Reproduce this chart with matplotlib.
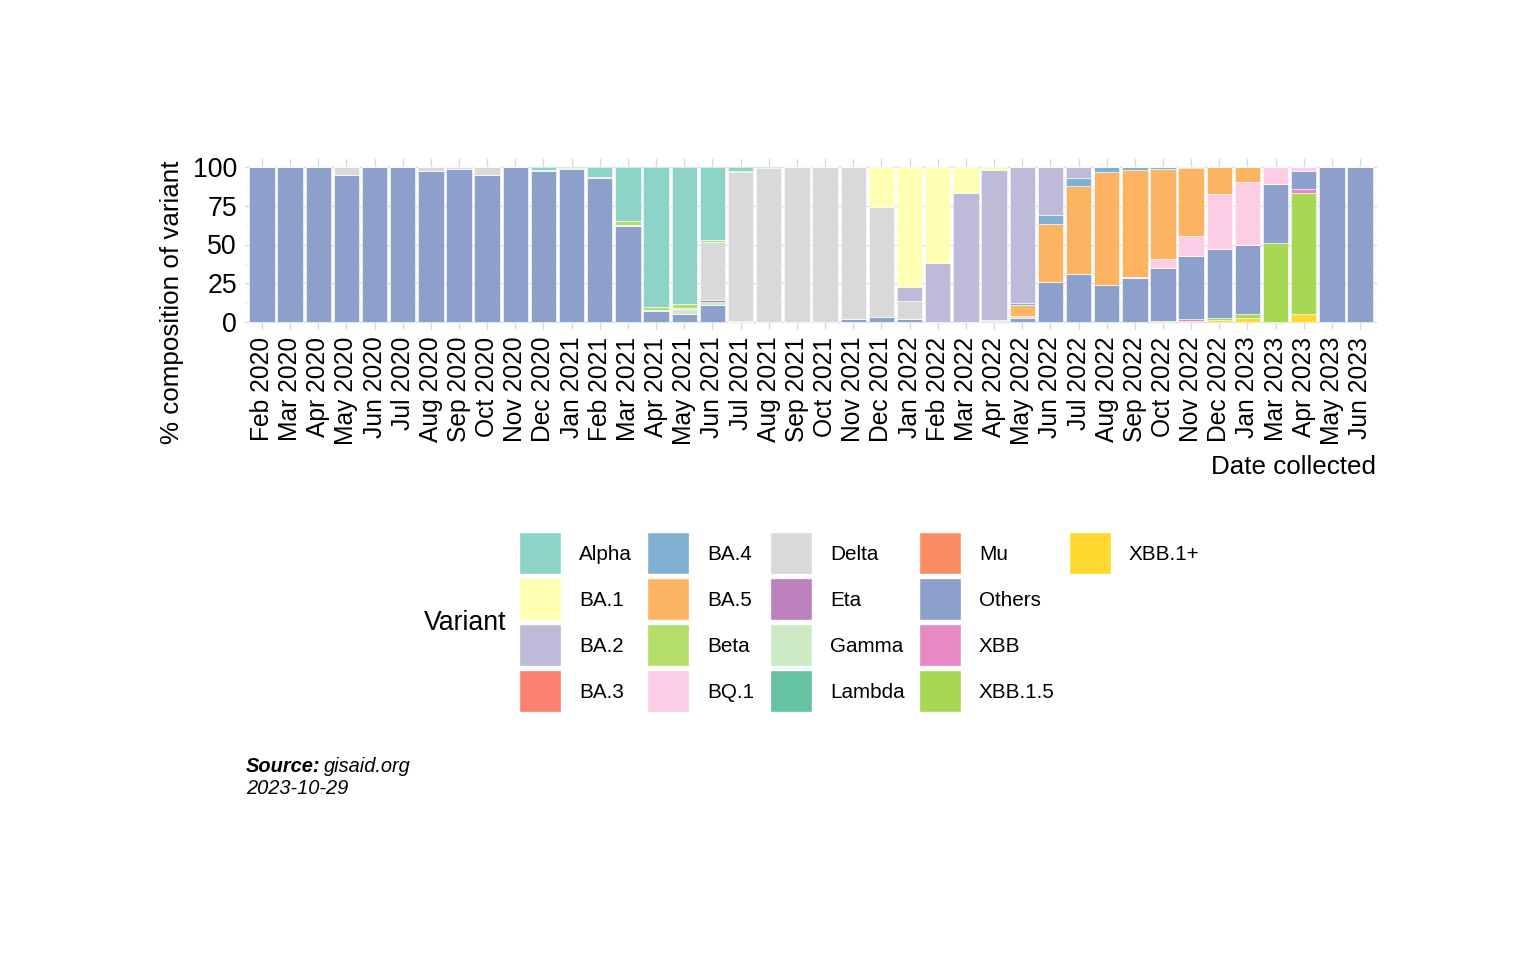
import matplotlib
matplotlib.use("Agg")
import matplotlib.pyplot as plt
from matplotlib.patches import Rectangle
import numpy as np

plt.rcParams['font.family'] = ['Liberation Sans Narrow', 'Liberation Sans', 'DejaVu Sans']

months = ["Feb 2020", "Mar 2020", "Apr 2020", "May 2020", "Jun 2020", "Jul 2020",
          "Aug 2020", "Sep 2020", "Oct 2020", "Nov 2020", "Dec 2020", "Jan 2021",
          "Feb 2021", "Mar 2021", "Apr 2021", "May 2021", "Jun 2021", "Jul 2021",
          "Aug 2021", "Sep 2021", "Oct 2021", "Nov 2021", "Dec 2021", "Jan 2022",
          "Feb 2022", "Mar 2022", "Apr 2022", "May 2022", "Jun 2022", "Jul 2022",
          "Aug 2022", "Sep 2022", "Oct 2022", "Nov 2022", "Dec 2022", "Jan 2023",
          "Mar 2023", "Apr 2023", "May 2023", "Jun 2023"]

# % share per month (top of stack -> bottom)
alpha   = [0, 0, 0, 0, 0, 0, 0, 0, 0, 0, 1.8, 0.5, 6.7, 34.8, 90.5, 88.4, 47.1, 2.6, 0.5, 0,
           0, 0, 0, 0, 0, 0, 0, 0, 0, 0, 0, 0, 0, 0, 0, 0, 0, 0, 0, 0]
ba1     = [0, 0, 0, 0, 0, 0, 0, 0, 0, 0, 0, 0, 0, 0, 0, 0, 0, 0, 0, 0,
           0, 0, 26.0, 77.6, 62.2, 17.0, 2.0, 0, 0, 0, 0, 0, 0, 0, 0, 0, 0, 0, 0, 0]
ba2     = [0, 0, 0, 0, 0, 0, 0, 0, 0, 0, 0, 0, 0, 0, 0, 0, 0, 0, 0, 0,
           0, 0, 0, 8.8, 37.8, 83.0, 96.3, 87.9, 31.0, 7.3, 0, 0, 0, 0, 0, 0, 0, 0, 0, 0]
ba3     = [0] * 40
ba4     = [0, 0, 0, 0, 0, 0, 0, 0, 0, 0, 0, 0, 0, 0, 0, 0, 0, 0, 0, 0,
           0, 0, 0, 0, 0, 0, 0, 1.3, 5.8, 5.0, 3.2, 2.2, 1.7, 0.8, 0, 0, 0, 0, 0, 0]
ba5     = [0, 0, 0, 0, 0, 0, 0, 0, 0, 0, 0, 0, 0, 0, 0, 0, 0, 0, 0, 0,
           0, 0, 0, 0, 0, 0, 1.0, 7.0, 37.2, 56.8, 72.7, 68.4, 57.8, 43.9, 17.6, 9.5, 0, 0, 0, 0]
beta    = [0, 0, 0, 0, 0, 0, 0, 0, 0, 0, 0.6, 1.0, 0, 2.4, 1.5, 2.2, 1.3, 0.8, 0, 0,
           0, 0, 0, 0, 0, 0, 0, 0, 0, 0, 0, 0, 0, 0, 0, 0, 0, 0, 0, 0]
bq1     = [0, 0, 0, 0, 0, 0, 0, 0, 0, 0, 0, 0, 0, 0, 0, 0, 0, 0, 0, 0,
           0, 0, 0, 0, 0, 0, 0, 0, 0, 0, 0, 0.8, 5.6, 12.9, 35.5, 40.9, 11.0, 3.0, 0, 0]
delta   = [0, 0, 0, 5.2, 0, 0, 2.6, 1.7, 5.4, 0, 0, 0, 0.8, 0.8, 0, 1.0, 37.4, 96.1, 99.5, 100,
           100, 98.1, 70.6, 11.8, 0, 0, 0, 0.8, 0, 0, 0, 0, 0, 0, 0, 0, 0, 0, 0, 0]
eta     = [0, 0, 0, 0, 0, 0, 0, 0, 0, 0, 0, 0, 0, 0, 0, 0.8, 1.3, 0, 0, 0,
           0, 0, 0, 0, 0, 0, 0, 0, 0, 0, 0, 0, 0, 0, 0, 0, 0, 0, 0, 0]
gamma   = [0, 0, 0, 0, 0, 0, 0, 0, 0, 0, 0, 0, 0, 0, 1.0, 2.0, 1.9, 0.5, 0, 0,
           0, 0, 0, 0, 0, 0, 0, 0, 0, 0, 0, 0, 0, 0, 0, 0, 0, 0, 0, 0]
lambda_ = [0] * 40
mu      = [0] * 40
others  = [100, 100, 100, 94.8, 100, 100, 97.4, 98.3, 94.6, 100, 97.6, 98.5, 92.5, 62.0, 7.0, 5.6, 11.0, 0, 0, 0,
           0, 1.9, 3.4, 1.8, 0, 0, 0.7, 3.0, 26.0, 30.9, 24.1, 28.6, 34.1, 40.6, 44.1, 44.0, 37.8, 11.4, 100, 100]
xbb     = [0, 0, 0, 0, 0, 0, 0, 0, 0, 0, 0, 0, 0, 0, 0, 0, 0, 0, 0, 0,
           0, 0, 0, 0, 0, 0, 0, 0, 0, 0, 0, 0, 0, 0.9, 0, 0, 0, 2.6, 0, 0]
xbb15   = [0, 0, 0, 0, 0, 0, 0, 0, 0, 0, 0, 0, 0, 0, 0, 0, 0, 0, 0, 0,
           0, 0, 0, 0, 0, 0, 0, 0, 0, 0, 0, 0, 0, 0.9, 1.3, 3.2, 51.2, 77.4, 0, 0]
xbb1p   = [0, 0, 0, 0, 0, 0, 0, 0, 0, 0, 0, 0, 0, 0, 0, 0, 0, 0, 0, 0,
           0, 0, 0, 0, 0, 0, 0, 0, 0, 0, 0, 0, 0.8, 0, 1.5, 2.4, 0, 5.6, 0, 0]

variants = ["Alpha", "BA.1", "BA.2", "BA.3", "BA.4", "BA.5", "Beta", "BQ.1", "Delta",
            "Eta", "Gamma", "Lambda", "Mu", "Others", "XBB", "XBB.1.5", "XBB.1+"]
series = [alpha, ba1, ba2, ba3, ba4, ba5, beta, bq1, delta, eta, gamma, lambda_, mu,
          others, xbb, xbb15, xbb1p]
colors = ["#8DD3C7", "#FFFFB3", "#BEBADA", "#FB8072", "#80B1D3", "#FDB462", "#B3DE69",
          "#FCCDE5", "#D9D9D9", "#BC80BD", "#CCEBC5", "#66C2A5", "#FC8D62", "#8DA0CB",
          "#E78AC3", "#A6D854", "#FFD92F"]

W, H = 1536, 960
fig = plt.figure(figsize=(16, 10), dpi=96)
ax = fig.add_axes([245 / W, 1 - 330 / H, 1132 / W, 171 / H])

x = np.arange(len(months))
# ggplot stacks the first level on top, so build from the last one up
bottom = np.zeros(len(months))
for name, vals, col in reversed(list(zip(variants, series, colors))):
    vals = np.array(vals, dtype=float)
    ax.bar(x, vals, width=0.9, bottom=bottom, color=col, edgecolor='white',
           linewidth=0.4, zorder=2)
    bottom += vals

ax.set_xlim(-0.6, len(months) - 0.4)
ax.set_ylim(-5, 105)
ax.set_yticks([0, 25, 50, 75, 100])
ax.set_yticks([12.5, 37.5, 62.5, 87.5], minor=True)
ax.set_xticks(x)
ax.set_xticklabels(months, rotation=90, fontsize=18.5, va='top')
ax.tick_params(axis='y', labelsize=20, length=0, pad=6, which='both')
ax.tick_params(axis='x', length=0, pad=5)
ax.grid(True, which='major', color='#D9D9D9', linewidth=1.0, zorder=0)
ax.grid(True, which='minor', axis='y', color='#EBEBEB', linewidth=0.6, zorder=0)
ax.set_axisbelow(True)
for s in ax.spines.values():
    s.set_visible(False)

fig.text(172 / W, 1 - 302 / H, "% composition of variant", rotation=90,
         fontsize=19.5, ha='center', va='center')
fig.text(1376 / W, 1 - 467 / H, "Date collected", fontsize=19.5, ha='right', va='center')

# legend drawn by hand, column-major 4 rows like ggplot
col_x = [519, 647, 770, 919, 1069]
row_y = [553, 599, 645, 691]
key = 42
for i, (name, col) in enumerate(zip(variants, colors)):
    c, r = divmod(i, 4)
    kx, ky = col_x[c], row_y[r]
    fig.add_artist(Rectangle((kx / W, 1 - (ky + key / 2) / H), key / W, key / H,
                             facecolor=col, edgecolor='white', linewidth=1,
                             transform=fig.transFigure))
    fig.text((kx + 60) / W, 1 - (ky + 1) / H, name, fontsize=15.5, ha='left', va='center')
fig.text(424 / W, 1 - 623 / H, "Variant", fontsize=20, ha='left', va='center')

fig.text(246 / W, 1 - 766 / H, "Source:", fontsize=15, style='italic',
         weight='bold', ha='left', va='center')
fig.text(324 / W, 1 - 766 / H, "gisaid.org", fontsize=15, style='italic',
         ha='left', va='center')
fig.text(246 / W, 1 - 788 / H, "2023-10-29", fontsize=15, style='italic',
         ha='left', va='center')

fig.savefig("out.png", dpi=96, facecolor='white')
